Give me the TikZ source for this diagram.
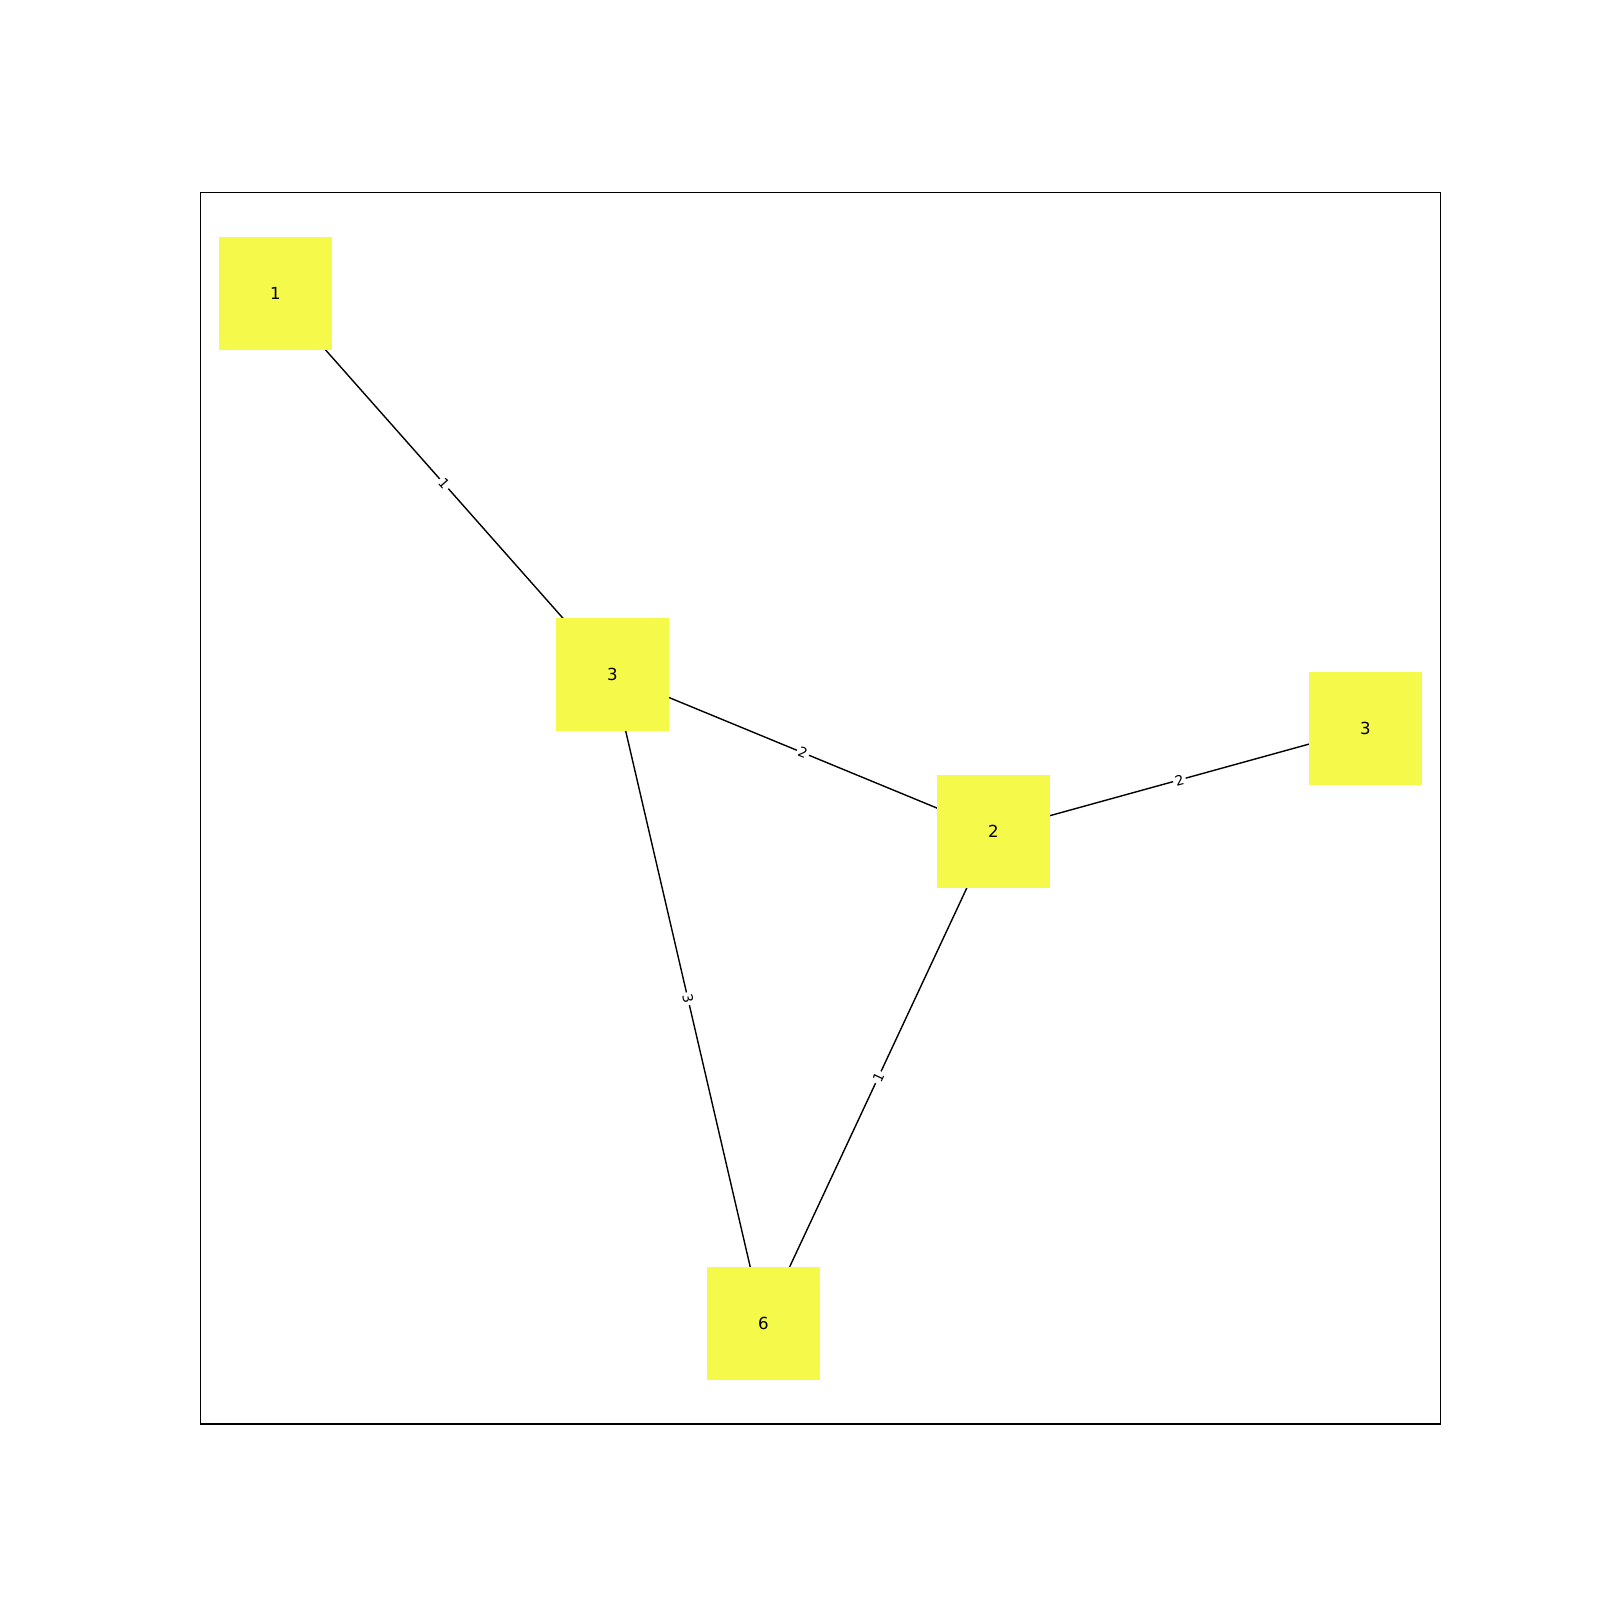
\documentclass[tikz,border=0pt]{standalone}
\usepackage{fontspec}
\setmainfont{DejaVu Sans}
\usetikzlibrary{backgrounds}
\definecolor{nodeyellow}{RGB}{244,249,74}
\tikzset{
  vbox/.style={fill=nodeyellow, minimum size=56.5pt, inner sep=0pt, font=\fontsize{8.3}{10}\selectfont},
  edge/.style={line width=0.7pt, black},
  elabel/.style={midway, sloped, fill=white, inner sep=1pt, font=\fontsize{6.9}{8}\selectfont},
  frame/.style={line width=0.55pt, black}
}
\begin{document}
\begin{tikzpicture}[x=0.5pt, y=-0.5pt]
\useasboundingbox (0,0) rectangle (1600,1600);
\node[vbox] (n1) at (275.5,293.3) {1};
\node[vbox] (n3a) at (612.5,674.2) {3};
\node[vbox] (n2) at (993.3,831.3) {2};
\node[vbox] (n3b) at (1365.5,728.5) {3};
\node[vbox] (n6) at (763.3,1323.2) {6};
\begin{scope}[on background layer]
\fill[white] (0,0) rectangle (1600,1600);
\draw[frame] (200.5,192.5) rectangle (1440.5,1424);
\draw[edge] (n1.center) -- node[elabel] {1} (n3a.center);
\draw[edge] (n3a.center) -- node[elabel] {2} (n2.center);
\draw[edge] (n3a.center) -- node[elabel] {3} (n6.center);
\draw[edge] (n2.center) -- node[elabel] {2} (n3b.center);
\draw[edge] (n2.center) -- node[elabel] {1} (n6.center);
\end{scope}
\end{tikzpicture}
\end{document}
